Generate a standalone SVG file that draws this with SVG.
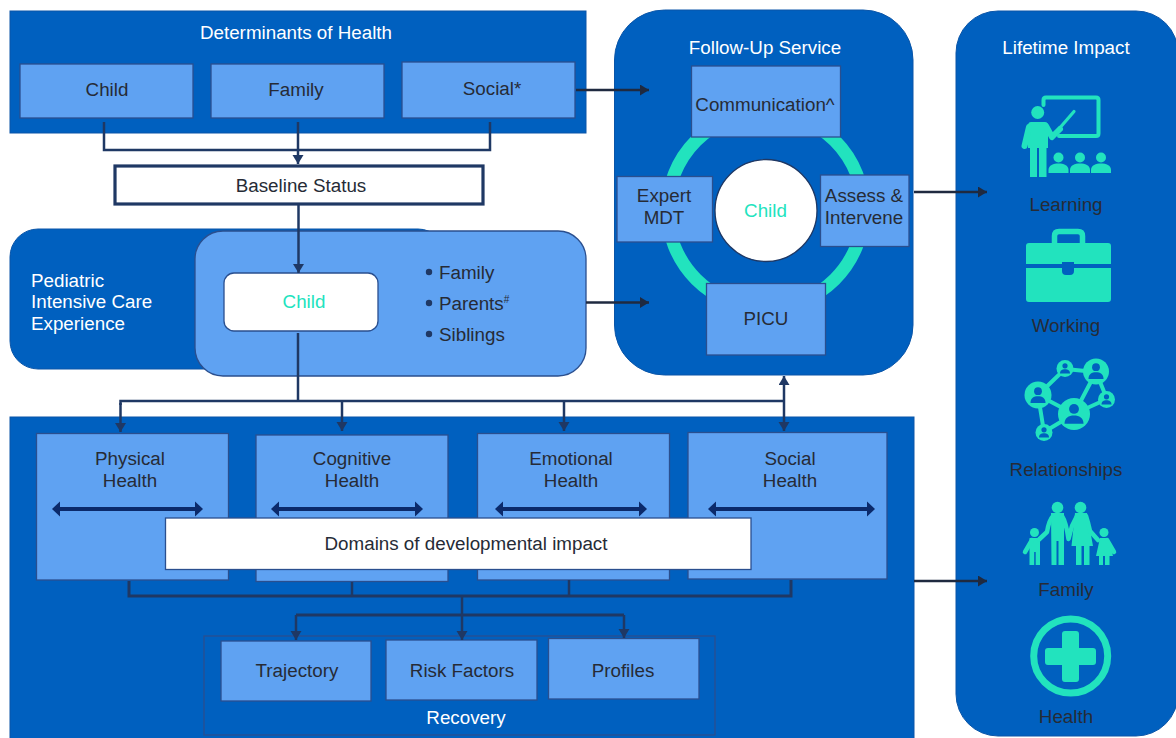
<svg xmlns="http://www.w3.org/2000/svg" xmlns:xlink="http://www.w3.org/1999/xlink" width="1176" height="738" viewBox="0 0 1176 738">
<style>
text{font-family:"Liberation Sans",Arial,sans-serif;font-size:18.8px;fill:#262b36;text-anchor:middle}
.w{fill:#fff}
.t{fill:#22e3be}
.l{text-anchor:start}
.panel{fill:#0060bf;stroke:#0a55a8;stroke-width:1}
.box{fill:#5fa2f2;stroke:#2a4f8f;stroke-width:1.3}
.white{fill:#fff;stroke:#2a4f8f;stroke-width:1.3}
.con{fill:none;stroke:#1f3864;stroke-width:2.5}
.out{fill:none;stroke:#1f2a40;stroke-width:2.5}
.dbl{fill:none;stroke:#0b2a6b;stroke-width:4}
.teal{fill:#22e3be}
.tl{stroke:#22e3be;fill:none;stroke-linecap:round;stroke-linejoin:round}
</style>
<defs>
<marker id="a" markerUnits="userSpaceOnUse" markerWidth="10" markerHeight="12" refX="9" refY="5.5" orient="auto-start-reverse"><path d="M0 0L9 5.500L0 11Z" fill="#1f3864"/></marker>
<marker id="b" markerUnits="userSpaceOnUse" markerWidth="10" markerHeight="12" refX="9" refY="5.5" orient="auto"><path d="M0 0L9 5.500L0 11Z" fill="#1f2a40"/></marker>
<marker id="d" markerUnits="userSpaceOnUse" markerWidth="10" markerHeight="16" refX="1" refY="8" orient="auto-start-reverse"><path d="M0 0.500L8 8L0 15.500Z" fill="#0b2a6b"/></marker>
<g id="person"><circle cx="0" cy="-3.2" r="2.6" fill="#0060bf"/><path d="M-5 4.600C-5 1.400-2.800 0.200 0 0.200S5 1.400 5 4.600Z" fill="#0060bf"/></g>
<g id="pupil"><circle cx="0" cy="-5.500" r="5"/><path d="M-10 10V7C-10 2-5 0.500 0 0.500S10 2 10 7V10Z"/></g>
</defs>

<g id="determinants">
<rect class="panel" x="10" y="11" width="576" height="122"/>
<text class="w" x="296" y="39">Determinants of Health</text>
</g>
<g id="det-child"><rect class="box" x="20" y="64" width="173" height="54"/><text x="107" y="96">Child</text></g>
<g id="det-family"><rect class="box" x="211" y="64" width="173" height="54"/><text x="296" y="96">Family</text></g>
<g id="det-social"><rect class="box" x="402" y="62" width="173" height="56"/><text x="492" y="95">Social*</text></g>

<g id="baseline"><rect x="115" y="166" width="368" height="38" fill="#fff" stroke="#1f3864" stroke-width="3.2"/><text x="301" y="192">Baseline Status</text></g>

<g id="picu-experience">
<rect class="panel" x="10" y="229" width="436" height="140" rx="28"/>
<text class="w l" x="31" y="287">Pediatric</text>
<text class="w l" x="31" y="308">Intensive Care</text>
<text class="w l" x="31" y="330">Experience</text>
<rect class="box" x="195" y="231" width="391" height="145" rx="28"/>
</g>
<g id="picu-child"><rect class="white" x="224" y="273" width="154" height="58" rx="10"/><text class="t" x="304" y="308">Child</text></g>
<g id="picu-list">
<circle cx="429" cy="272" r="3.200" fill="#1f3864"/><text class="l" x="439" y="279">Family</text>
<circle cx="429" cy="303" r="3.200" fill="#1f3864"/><text class="l" x="439" y="310">Parents<tspan font-size="10" dy="-7">#</tspan></text>
<circle cx="429" cy="334" r="3.200" fill="#1f3864"/><text class="l" x="439" y="341">Siblings</text>
</g>

<g id="follow-up">
<rect class="panel" x="614.500" y="10" width="298.500" height="365" rx="50"/>
<text class="w" x="765" y="54">Follow-Up Service</text>
<circle cx="765.500" cy="210" r="98" fill="none" stroke="#22e3be" stroke-width="13"/>
</g>
<g id="fu-communication"><rect class="box" x="691.500" y="66" width="149" height="71"/><text x="765" y="111">Communication^</text></g>
<g id="fu-expert"><rect class="box" x="617" y="176.500" width="95.500" height="65.500"/><text x="664" y="202">Expert</text><text x="664" y="224">MDT</text></g>
<g id="fu-assess"><rect class="box" x="820.500" y="175" width="88.500" height="71.500"/><text x="864" y="202">Assess &amp;</text><text x="864" y="224">Intervene</text></g>
<g id="fu-picu"><rect class="box" x="706.500" y="283.500" width="119" height="71.500"/><text x="766" y="325">PICU</text></g>
<g id="fu-child"><circle cx="766" cy="210.500" r="51" fill="#fff" stroke="#1f3864" stroke-width="1.300"/><text class="t" x="765.500" y="217">Child</text></g>

<g id="lifetime">
<rect class="panel" x="956" y="11" width="222" height="725" rx="42"/>
<text class="w" x="1066" y="54">Lifetime Impact</text>
</g>
<g id="learning">
<path class="tl" stroke-width="4" d="M1043.500 105V100Q1043.500 97.500 1046 97.500H1096Q1098.500 97.500 1098.500 100V133.500Q1098.500 136 1096 136H1059"/>
<circle class="teal" cx="1037.700" cy="112.500" r="6.500"/>
<path class="teal" d="M1031 122H1045Q1048 122 1048 126V148H1046.500V177H1039V148H1037V177H1030V148H1028V126Q1028 122 1031 122Z"/>
<path class="tl" stroke-width="6" d="M1029 127L1024.500 146M1046 126L1052 137L1060 129"/>
<path class="tl" stroke-width="3.200" d="M1058 130L1074 111.500"/>
<g class="teal"><use xlink:href="#pupil" href="#pupil" x="1058.500" y="163"/><use xlink:href="#pupil" href="#pupil" x="1080" y="163"/><use xlink:href="#pupil" href="#pupil" x="1101" y="163"/></g>
<text x="1066" y="211">Learning</text>
</g>
<g id="working">
<path class="tl" stroke-width="5.500" d="M1054.500 244V236Q1054.500 231.500 1059 231.500H1078Q1082.500 231.500 1082.500 236V244"/>
<path class="teal" d="M1029 243H1108Q1111 243 1111 246V264H1074V262H1062V264H1026V246Q1026 243 1029 243Z"/>
<path class="teal" d="M1026 268H1062V271Q1062 275 1066 275H1070Q1074 275 1074 271V268H1111V299Q1111 302 1108 302H1029Q1026 302 1026 299Z"/>
<text x="1066" y="332">Working</text>
</g>
<g id="relationships">
<path class="tl" stroke-width="4" d="M1038 395L1065 369L1096 372L1074 414L1038 395L1044 432L1074 414L1107 399L1096 372"/>
<g class="teal"><circle cx="1038" cy="395" r="13.500"/><circle cx="1065" cy="368.500" r="8.500"/><circle cx="1096" cy="371.500" r="13"/><circle cx="1106.500" cy="399.500" r="8.500"/><circle cx="1074" cy="414" r="16"/><circle cx="1044" cy="432.500" r="8.500"/></g>
<use xlink:href="#person" href="#person" transform="translate(1038 396) scale(1.500)"/>
<use xlink:href="#person" href="#person" transform="translate(1065 369)"/>
<use xlink:href="#person" href="#person" transform="translate(1096 372) scale(1.500)"/>
<use xlink:href="#person" href="#person" transform="translate(1106.500 400)"/>
<use xlink:href="#person" href="#person" transform="translate(1074 415) scale(1.900)"/>
<use xlink:href="#person" href="#person" transform="translate(1044 433)"/>
<text x="1066" y="476">Relationships</text>
</g>
<g id="family-icon">
<g class="teal">
<circle cx="1057.500" cy="507.500" r="5.800"/><circle cx="1080.500" cy="507.500" r="5.800"/><circle cx="1034.500" cy="532.500" r="4.500"/><circle cx="1104" cy="532.500" r="4.500"/>
<path d="M1051 513H1064V565H1058.500V541H1056.500V565H1051.500Z"/>
<path d="M1075 513H1087L1093 546H1089.500V565H1084V546H1081.500V565H1076V546H1071.500Z"/>
<path d="M1029.500 538H1040V565H1035.700V552H1034.200V565H1029.500Z"/>
<path d="M1100 538H1108L1113 556H1109.500V565H1105V556H1103V565H1099V556H1096Z"/>
</g>
<path class="tl" stroke-width="4.500" d="M1053 516Q1049 520 1047 532L1039 539.500M1062 516Q1066 522 1068.500 539L1072 526L1077 516M1086 516Q1088 522 1090 531L1098 540M1032 540L1025 552M1107 540L1114 552"/>
<text x="1066" y="596">Family</text>
</g>
<g id="health">
<circle class="tl" cx="1070.700" cy="656" r="37" stroke-width="7"/>
<path class="teal" d="M1062 634Q1062 631 1065 631H1076Q1079 631 1079 634V648H1093Q1096 648 1096 651V662Q1096 665 1093 665H1079V679Q1079 682 1076 682H1065Q1062 682 1062 679V665H1048Q1045 665 1045 662V651Q1045 648 1048 648H1062Z"/>
<text x="1066" y="723">Health</text>
</g>

<g id="domains">
<rect class="panel" x="10" y="417" width="904" height="322"/>
<text class="w" x="466" y="724">Recovery</text>
<rect x="204" y="636" width="511" height="99" fill="none" stroke="#2a4f8f" stroke-width="1.300"/>
</g>
<g id="physical"><rect class="box" x="36.500" y="433.500" width="192" height="146.500"/><text x="130" y="465">Physical</text><text x="130" y="487">Health</text><path class="dbl" d="M59 509H196" marker-start="url(#d)" marker-end="url(#d)"/></g>
<g id="cognitive"><rect class="box" x="256" y="435" width="192" height="146.500"/><text x="352" y="465">Cognitive</text><text x="352" y="487">Health</text><path class="dbl" d="M278 509H416" marker-start="url(#d)" marker-end="url(#d)"/></g>
<g id="emotional"><rect class="box" x="477.500" y="433.500" width="192" height="146.500"/><text x="571" y="465">Emotional</text><text x="571" y="487">Health</text><path class="dbl" d="M502 509H640" marker-start="url(#d)" marker-end="url(#d)"/></g>
<g id="social"><rect class="box" x="688" y="432.500" width="199" height="146.500"/><text x="790" y="465">Social</text><text x="790" y="487">Health</text><path class="dbl" d="M715 509H868" marker-start="url(#d)" marker-end="url(#d)"/></g>
<g id="domains-label"><rect class="white" x="165.500" y="518" width="585.500" height="51.500"/><text x="466" y="550">Domains of developmental impact</text></g>
<g id="trajectory"><rect class="box" x="221" y="641" width="150" height="60"/><text x="297" y="677">Trajectory</text></g>
<g id="risk"><rect class="box" x="386" y="640" width="151" height="60"/><text x="462" y="677">Risk Factors</text></g>
<g id="profiles"><rect class="box" x="548.500" y="638.500" width="150.500" height="60.500"/><text x="623" y="677">Profiles</text></g>

<g id="connectors">
<path class="con" d="M104 122V150H490V122"/>
<path class="con" d="M298 122V164" marker-end="url(#a)"/>
<path class="con" d="M298.500 205V273" marker-end="url(#a)"/>
<path class="con" d="M298 333V401"/>
<path class="con" d="M120.500 405V401H784"/>
<path class="con" d="M120.500 403V432" marker-end="url(#a)"/>
<path class="con" d="M342 400V431" marker-end="url(#a)"/>
<path class="con" d="M564 401V431" marker-end="url(#a)"/>
<path class="con" d="M784 376V431" marker-start="url(#a)" marker-end="url(#a)"/>
<path class="con" style="stroke-width:3" d="M129 581V596H791V580"/>
<path class="con" d="M352 582V596M569 580V596M462 596V615"/>
<path class="con" style="stroke-width:3" d="M296 615H624"/>
<path class="con" d="M296 615V640" marker-end="url(#a)"/>
<path class="con" d="M462 615V640" marker-end="url(#a)"/>
<path class="con" d="M624 615V638" marker-end="url(#a)"/>
<path class="out" d="M576 90H649" marker-end="url(#b)"/>
<path class="out" d="M586 302.500H649" marker-end="url(#b)"/>
<path class="out" d="M914 192H987" marker-end="url(#b)"/>
<path class="out" d="M914 581H987" marker-end="url(#b)"/>
</g>
</svg>
